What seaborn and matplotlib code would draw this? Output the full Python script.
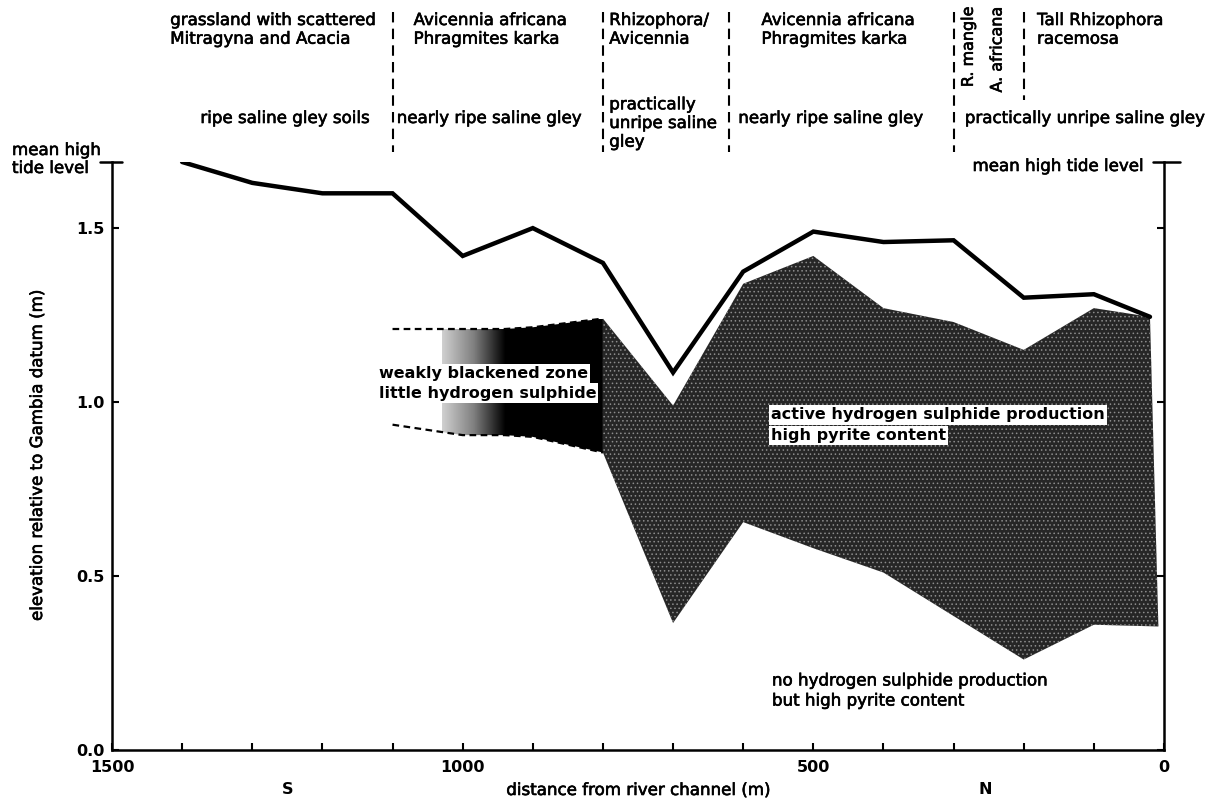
import numpy as np
import matplotlib
matplotlib.use("Agg")
import matplotlib.pyplot as plt
import matplotlib.transforms as mtransforms
import matplotlib.patheffects as pe
from matplotlib.colors import LinearSegmentedColormap
from matplotlib.patches import Polygon
from matplotlib.ticker import FixedLocator, MultipleLocator, FormatStrFormatter
import seaborn as sns

# Soil surface profile (distance from river channel in m, elevation in m)
surface_distance = [1400, 1300, 1200, 1100, 1000, 900, 800, 700, 600, 500, 400, 300, 200, 100, 20]
surface_elevation = [1.69, 1.63, 1.60, 1.60, 1.42, 1.50, 1.40, 1.085, 1.375, 1.49, 1.46, 1.465, 1.30, 1.31, 1.245]

# Zone of active hydrogen sulphide production
active_top_distance = [800, 700, 600, 500, 400, 300, 200, 100, 20]
active_top = [1.24, 0.99, 1.34, 1.42, 1.27, 1.23, 1.15, 1.27, 1.245]
active_bottom_distance = [800, 700, 600, 500, 400, 300, 200, 100, 8]
active_bottom = [0.855, 0.365, 0.655, 0.58, 0.51, 0.385, 0.26, 0.36, 0.355]

# Weakly blackened zone
weak_distance = [1100, 1000, 940, 900, 800]
weak_top = [1.21, 1.21, 1.21, 1.215, 1.24]
weak_bottom = [0.935, 0.905, 0.905, 0.90, 0.855]
fade_start, fade_end = 1030, 940

mean_high_tide = 1.69

# Vegetation / soil unit boundaries
boundaries = [1100, 800, 620, 300, 200]
boundary_bottom_px = [152, 152, 152, 152, 100]

vegetation_labels = ["grassland with scattered\nMitragyna and Acacia",
                     "Avicennia africana\nPhragmites karka",
                     "Rhizophora/\nAvicennia",
                     "Avicennia africana\nPhragmites karka",
                     "Tall Rhizophora\nracemosa"]
vegetation_x = [1417, 1070, 791, 574, 181]

soil_labels = ["ripe saline gley soils", "nearly ripe saline gley",
               "practically\nunripe saline\ngley", "nearly ripe saline gley",
               "practically unripe saline gley"]
soil_x = [1374, 1094, 791, 607, 284]
soil_y_px = [118, 118, 123, 118, 118]

narrow_labels = ["R. mangle", "A. africana"]
narrow_x = [279, 238]

x_ticks = [1500, 1000, 500, 0]
y_ticks = [0.0, 0.5, 1.0, 1.5]

sns.set_theme(style="ticks")
plt.rcParams["font.family"] = ["DejaVu Sans"]
plt.rcParams["hatch.linewidth"] = 0.6
plt.rcParams["text.color"] = "black"
plt.rcParams["axes.labelcolor"] = "black"
plt.rcParams["xtick.color"] = "black"
plt.rcParams["ytick.color"] = "black"

# a thin outline gives the regular-weight lettering a medium stroke
medium = [pe.withStroke(linewidth=0.45, foreground="black")]

W, H = 1226, 800
fig = plt.figure(figsize=(W / 100, H / 100), dpi=100)
ax_left, ax_right, ax_bottom, ax_top = 112, 1164, 750, 162
ax = fig.add_axes([ax_left / W, 1 - ax_bottom / H,
                   (ax_right - ax_left) / W, (ax_bottom - ax_top) / H])
ax.set_facecolor("white")

# Weakly blackened zone: grey fade into black, clipped to the zone outline
weak_poly = Polygon(np.column_stack([weak_distance + weak_distance[::-1],
                                     weak_top + weak_bottom[::-1]]),
                    closed=True, facecolor="none", edgecolor="none")
ax.add_patch(weak_poly)
xs = np.linspace(fade_start, weak_distance[-1], 500)
shade = np.clip((fade_start - xs) / (fade_start - fade_end), 0, 1)
fade_cmap = LinearSegmentedColormap.from_list("fade", ["#d0d0d0", "#808080", "#000000"])
img = ax.imshow(shade[np.newaxis, :],
                extent=[fade_start, weak_distance[-1], min(weak_bottom), max(weak_top)],
                cmap=fade_cmap, vmin=0, vmax=1, aspect="auto",
                interpolation="bilinear", zorder=1)
img.set_clip_path(weak_poly)

# Dashed outline of the weakly blackened zone
for ys in (weak_top, weak_bottom):
    sns.lineplot(x=weak_distance, y=ys, ax=ax, color="black", lw=1.6,
                 linestyle=(0, (3, 2)), sort=False, estimator=None, zorder=3)

# Active sulphide zone (stippled)
ax.fill(active_top_distance + active_bottom_distance[::-1],
        active_top + active_bottom[::-1],
        facecolor="#262626", edgecolor="#8c8c8c", hatch="....",
        linewidth=0, zorder=2)

# Soil surface
sns.lineplot(x=surface_distance, y=surface_elevation, ax=ax, color="black",
             lw=3.2, sort=False, estimator=None, zorder=4,
             solid_joinstyle="miter")

ax.set_xlim(1500, 0)
ax.set_ylim(0, mean_high_tide)
ax.set_xlabel("")
ax.set_ylabel("")

# Axes styling
ax.spines["top"].set_visible(False)
for side in ("left", "right", "bottom"):
    ax.spines[side].set_linewidth(1.8)
    ax.spines[side].set_color("black")
ax.xaxis.set_major_locator(FixedLocator(x_ticks))
ax.xaxis.set_minor_locator(MultipleLocator(100))
ax.yaxis.set_major_locator(FixedLocator(y_ticks))
ax.yaxis.set_major_formatter(FormatStrFormatter("%.1f"))
ax.tick_params(axis="both", which="both", direction="in", length=5, width=1.5,
               colors="black")
ax.tick_params(axis="y", right=True, labelright=False, pad=5)
ax.tick_params(axis="x", which="minor", bottom=True, length=5)
ax.tick_params(axis="x", pad=7)
for lab in ax.get_xticklabels() + ax.get_yticklabels():
    lab.set_fontsize(11.5)
    lab.set_fontweight("bold")
    lab.set_color("black")

# Mean high tide caps on both vertical axes
ax.plot([-12 / 1052, 10 / 1052], [1, 1], transform=ax.transAxes, color="black",
        lw=1.8, clip_on=False, zorder=5)
ax.plot([1 - 11 / 1052, 1 + 16 / 1052], [1, 1], transform=ax.transAxes,
        color="black", lw=1.8, clip_on=False, zorder=5)

fy = lambda px: 1 - px / H
head = mtransforms.blended_transform_factory(ax.transData, fig.transFigure)

# Unit boundaries above the plot
for b, bot in zip(boundaries, boundary_bottom_px):
    ax.plot([b, b], [fy(12), fy(bot)], transform=head, color="black", lw=1.5,
            linestyle=(0, (5, 3)), clip_on=False)

for txt, x in zip(vegetation_labels, vegetation_x):
    ax.text(x, fy(11), txt, transform=head, ha="left", va="top", fontsize=12,
            linespacing=1.05, path_effects=medium)
for txt, x, ypx in zip(soil_labels, soil_x, soil_y_px):
    ax.text(x, fy(ypx), txt, transform=head, ha="left", va="center", fontsize=12,
            linespacing=1.05, path_effects=medium)
for txt, x in zip(narrow_labels, narrow_x):
    ax.text(x, fy(6), txt, transform=head, ha="center", va="top", fontsize=11.5,
            rotation=90, path_effects=medium)

fig.text(12 / W, fy(159), "mean high\ntide level", ha="left", va="center",
         fontsize=12, linespacing=1.0, path_effects=medium)
fig.text(1143 / W, fy(166), "mean high tide level", ha="right", va="center",
         fontsize=12, path_effects=medium)

# Zone annotations
box = dict(facecolor="white", edgecolor="none", pad=1.5)
ax.text(1120, 1.083, "weakly blackened zone", ha="left", va="center",
        fontsize=11.5, fontweight="bold", bbox=box, zorder=6)
ax.text(1120, 1.026, "little hydrogen sulphide", ha="left", va="center",
        fontsize=11.5, fontweight="bold", bbox=box, zorder=6)
ax.text(560, 0.963, "active hydrogen sulphide production", ha="left",
        va="center", fontsize=11.5, fontweight="bold", bbox=box, zorder=6)
ax.text(560, 0.905, "high pyrite content", ha="left", va="center",
        fontsize=11.5, fontweight="bold", bbox=box, zorder=6)
ax.text(559, 0.171, "no hydrogen sulphide production\nbut high pyrite content",
        ha="left", va="center", fontsize=12, linespacing=1.15,
        path_effects=medium)

# Axis titles and compass directions
ax.text(1250, fy(790), "S", transform=head, ha="center", va="center",
        fontsize=11.5, fontweight="bold")
ax.text(255, fy(790), "N", transform=head, ha="center", va="center",
        fontsize=11.5, fontweight="bold")
fig.text(638 / W, fy(790), "distance from river channel (m)", ha="center",
         va="center", fontsize=12, path_effects=medium)
fig.text(37 / W, fy(456), "elevation relative to Gambia datum (m)",
         ha="center", va="center", rotation=90, fontsize=12,
         path_effects=medium)

fig.savefig("out.png", dpi=100, facecolor="white")
